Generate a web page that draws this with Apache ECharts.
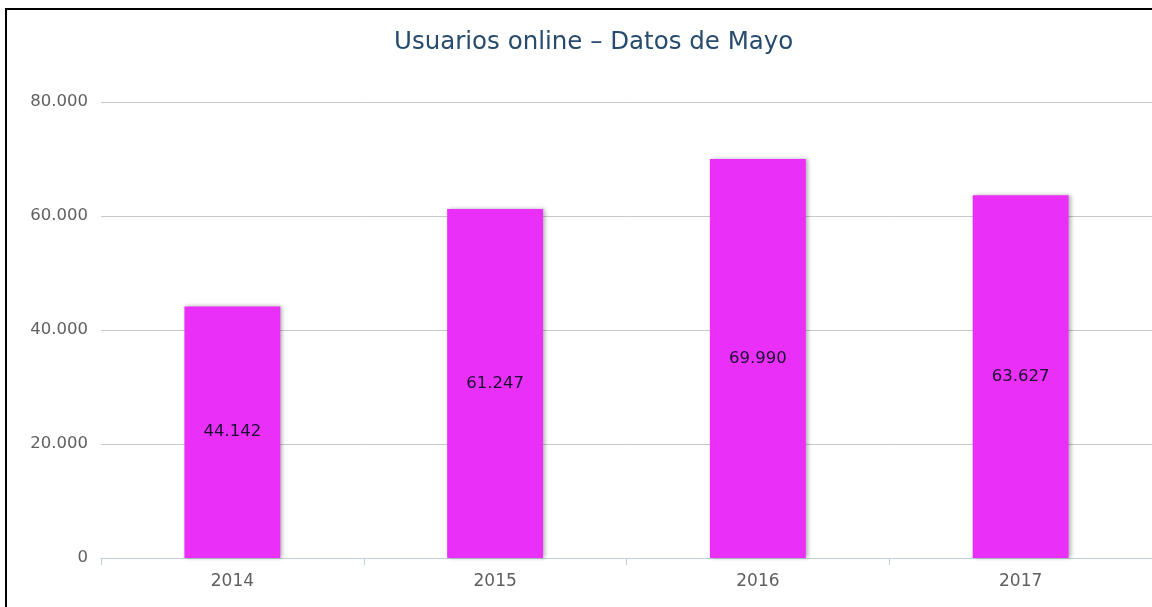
<!DOCTYPE html>
<html>
<head>
<meta charset="utf-8">
<script src="https://cdn.jsdelivr.net/npm/echarts@6/dist/echarts.min.js"></script>
<style>
  html, body { margin: 0; padding: 0; background: #fff; }
  #main { position: absolute; left: 0; top: 0; width: 1152px; height: 607px; }
  .marco { position: absolute; left: 5px; top: 8px; width: 1200px; height: 700px;
           border-left: 2px solid #000; border-top: 2px solid #000; pointer-events: none; }
</style>
</head>
<body>
<div id="main"></div>
<div class="marco"></div>
<script>
// datos del gráfico
let anios = ['2014', '2015', '2016', '2017']
let usuarios = [44142, 61247, 69990, 63627]
let tituloTexto = 'Usuarios online – Datos de Mayo'

// formato con punto de miles
function miles(v) {
  return String(v).replace(/\B(?=(\d{3})+(?!\d))/g, '.')
}

var myChart = echarts.init(document.getElementById('main'))
var option = {
  animation: false,
  title: {
    text: tituloTexto,
    left: 389,
    top: 25,
    textStyle: { color: '#274b6d', fontSize: 24.5, fontWeight: 'normal', fontFamily: 'DejaVu Sans' }
  },
  grid: { left: 101, right: -1, top: 102, bottom: 49 },
  xAxis: {
    type: 'category',
    data: anios,
    axisLine: { lineStyle: { color: '#c0d0e0', width: 1 } },
    axisTick: { show: true, length: 7, lineStyle: { color: '#c0d0e0' } },
    axisLabel: { color: '#606060', fontSize: 17, margin: 15, fontFamily: 'DejaVu Sans' }
  },
  yAxis: {
    type: 'value',
    min: 0,
    max: 80000,
    interval: 20000,
    axisLine: { show: false },
    axisTick: { show: false },
    axisLabel: {
      color: '#606060', fontSize: 16.5, margin: 13, fontFamily: 'DejaVu Sans',
      formatter: function (v) { return miles(v) }
    },
    splitLine: { lineStyle: { color: '#c8c8c8', width: 1 } }
  },
  series: [{
    name: 'Usuarios',
    type: 'bar',
    data: usuarios,
    barWidth: '36.5%',
    itemStyle: {
      color: '#e92ff8',
      shadowColor: 'rgba(0,0,0,0.3)',
      shadowBlur: 4,
      shadowOffsetX: 2,
      shadowOffsetY: 0
    },
    label: {
      show: true,
      position: 'inside',
      color: '#1a1030',
      fontSize: 16.5,
      fontFamily: 'DejaVu Sans',
      formatter: function (p) { return miles(p.value) }
    }
  }]
}
myChart.setOption(option)
</script>
</body>
</html>
